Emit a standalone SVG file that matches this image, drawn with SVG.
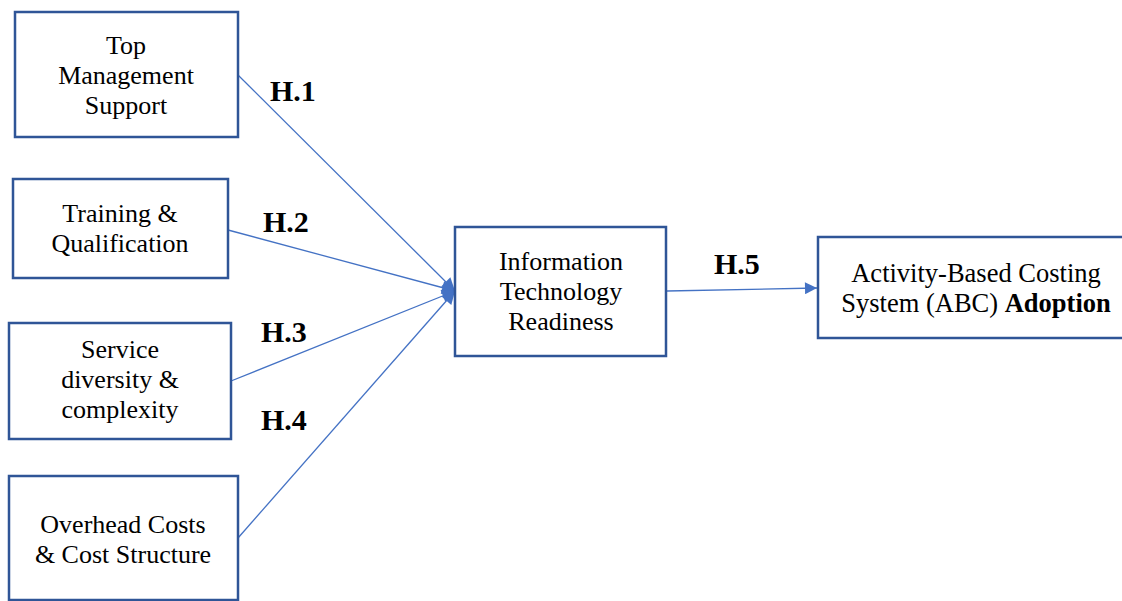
<svg xmlns="http://www.w3.org/2000/svg" width="1122" height="601" viewBox="0 0 1122 601">
<style>
.box{fill:#fff;stroke:#2F5597;stroke-width:2.5}
.t{font-family:"Liberation Serif",serif;font-size:26px;fill:#000;text-anchor:middle}
.h{font-family:"Liberation Serif",serif;font-size:30px;font-weight:bold;fill:#000}
.c{stroke:#4472C4;stroke-width:1.3;fill:none}
</style>
<defs>
<marker id="ah" viewBox="0 0 10 10" refX="10" refY="5" markerWidth="14" markerHeight="12" markerUnits="userSpaceOnUse" orient="auto">
<path d="M0,0 L10,5 L0,10 z" fill="#4472C4"/>
</marker>
<marker id="ah2" viewBox="0 0 10 10" refX="10" refY="5" markerWidth="15" markerHeight="13" markerUnits="userSpaceOnUse" orient="auto">
<path d="M0,0 L10,5 L0,10 z" fill="#4472C4"/>
</marker>
</defs>
<rect width="1122" height="601" fill="#fff"/>
<g id="connectors">
<line class="c" x1="238" y1="75" x2="455" y2="291" marker-end="url(#ah2)"/>
<line class="c" x1="228" y1="230" x2="455" y2="291" marker-end="url(#ah2)"/>
<line class="c" x1="231" y1="381" x2="455" y2="291" marker-end="url(#ah2)"/>
<line class="c" x1="238" y1="538" x2="455" y2="291" marker-end="url(#ah2)"/>
<line class="c" x1="667" y1="291" x2="817" y2="288" marker-end="url(#ah)"/>
</g>
<g id="n1"><rect class="box" x="15" y="12" width="223" height="125"/>
<text class="t" x="126" y="54">Top</text><text class="t" x="126" y="84">Management</text><text class="t" x="126" y="114">Support</text></g>
<g id="n2"><rect class="box" x="13" y="179" width="215" height="99"/>
<text class="t" x="120" y="222">Training &amp;</text><text class="t" x="120" y="252">Qualification</text></g>
<g id="n3"><rect class="box" x="9" y="323" width="222" height="116"/>
<text class="t" x="120" y="358">Service</text><text class="t" x="120" y="388">diversity &amp;</text><text class="t" x="120" y="418">complexity</text></g>
<g id="n4"><rect class="box" x="9" y="476" width="229" height="124"/>
<text class="t" x="123" y="533">Overhead Costs</text><text class="t" x="123" y="563">&amp; Cost Structure</text></g>
<g id="n5"><rect class="box" x="455" y="227" width="211" height="129"/>
<text class="t" x="561" y="270">Information</text><text class="t" x="561" y="300">Technology</text><text class="t" x="561" y="330">Readiness</text></g>
<g id="n6"><rect class="box" x="818" y="237" width="310" height="101"/>
<text class="t" x="976" y="282" style="font-size:26.5px">Activity-Based Costing</text><text class="t" x="976" y="312" style="font-size:26.5px">System (ABC) <tspan font-weight="bold">Adoption</tspan></text></g>
<g id="labels">
<text class="h" x="270" y="101">H.1</text>
<text class="h" x="263" y="232">H.2</text>
<text class="h" x="261" y="342">H.3</text>
<text class="h" x="261" y="430">H.4</text>
<text class="h" x="714" y="274">H.5</text>
</g>
</svg>
